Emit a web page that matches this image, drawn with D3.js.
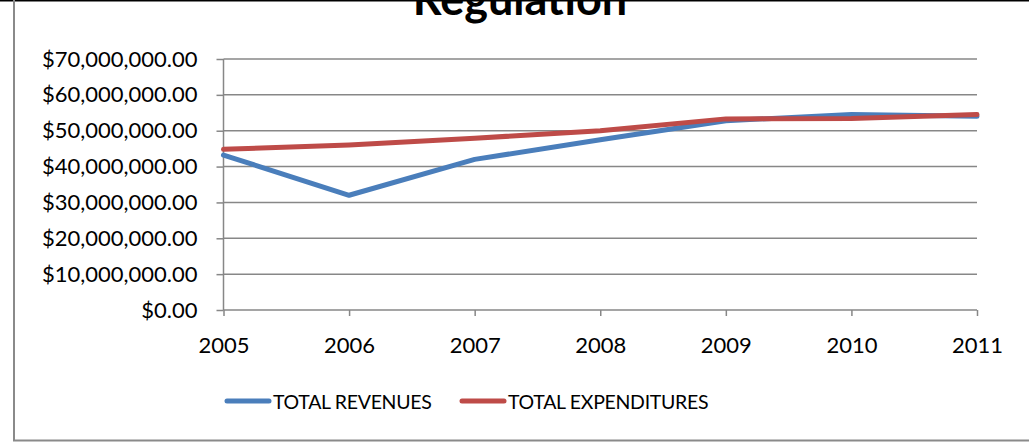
<!DOCTYPE html>
<html>
<head>
<meta charset="utf-8">
<script src="https://cdn.jsdelivr.net/npm/d3@7"></script>
<style>
  body { margin: 0; background: #fff; }
  svg { display: block; font-family: Lato, "Open Sans", sans-serif; }
</style>
</head>
<body>
<div id="chart"></div>
<script>
const years = [2005, 2006, 2007, 2008, 2009, 2010, 2011]
const revenues = [43.2e6, 32.0e6, 42.0e6, 47.5e6, 52.8e6, 54.5e6, 54.0e6]
const expenditures = [44.8e6, 46.0e6, 47.9e6, 50.0e6, 53.3e6, 53.4e6, 54.5e6]
const yTicks = [0, 10e6, 20e6, 30e6, 40e6, 50e6, 60e6, 70e6]
const seriesNames = ["TOTAL REVENUES", "TOTAL EXPENDITURES"]
const colors = ["#4a7ebb", "#be4b48"]

const W = 1029, H = 442
const PLOT = { LEFT: 223.5, RIGHT: 977, TOP: 59, BOTTOM: 310 }
const GRID = "#878787"

const svg = d3.select("#chart").append("svg")
              .attr("width", W)
              .attr("height", H)

// outer frame (chart area border, partly cropped)
svg.append("line").attr("x1", 0).attr("x2", W).attr("y1", 0.75).attr("y2", 0.75)
   .attr("stroke", "#000").attr("stroke-width", 1.5)
svg.append("line").attr("x1", 14).attr("x2", 14).attr("y1", 0).attr("y2", 441)
   .attr("stroke", "#8a8a8a").attr("stroke-width", 2)
svg.append("line").attr("x1", 13).attr("x2", W).attr("y1", 440.5).attr("y2", 440.5)
   .attr("stroke", "#8a8a8a").attr("stroke-width", 2)

svg.append("text")
   .attr("x", 520)
   .attr("y", 15)
   .attr("text-anchor", "middle")
   .attr("font-size", 45)
   .attr("font-weight", "bold")
   .text("Regulation")

const x = d3.scalePoint()
            .domain(years)
            .range([PLOT.LEFT, PLOT.RIGHT])

const y = d3.scaleLinear()
            .domain([0, 70e6])
            .range([PLOT.BOTTOM, PLOT.TOP])

const money = d3.format("$,.2f")

// horizontal gridlines
svg.append("g")
   .selectAll("line")
   .data(yTicks)
   .join("line")
   .attr("x1", PLOT.LEFT)
   .attr("x2", PLOT.RIGHT)
   .attr("y1", d => y(d))
   .attr("y2", d => y(d))
   .attr("stroke", GRID)
   .attr("stroke-width", 1.5)

// y axis
const yAxis = svg.append("g")
                 .attr("transform", `translate(${PLOT.LEFT}, 0)`)
                 .call(d3.axisLeft(y).tickValues(yTicks).tickFormat(money)
                         .tickSize(7).tickPadding(19))
yAxis.select(".domain")
     .attr("stroke", GRID).attr("stroke-width", 1.5)
     .attr("d", `M0,${PLOT.TOP}V${PLOT.BOTTOM}`)
yAxis.selectAll(".tick line").attr("stroke", GRID).attr("stroke-width", 1.5)
yAxis.selectAll(".tick text").attr("font-size", 22).attr("fill", "#000")
     .attr("font-family", "Lato, sans-serif")

// x axis
const xAxis = svg.append("g")
                 .attr("transform", `translate(0, ${PLOT.BOTTOM})`)
                 .call(d3.axisBottom(x).tickSize(6).tickPadding(21))
xAxis.select(".domain").remove()
xAxis.selectAll(".tick line").attr("stroke", GRID).attr("stroke-width", 1.5)
xAxis.selectAll(".tick text").attr("font-size", 22).attr("fill", "#000")
     .attr("font-family", "Lato, sans-serif")

// lines
const line = d3.line()
               .x((d, i) => x(years[i]))
               .y(d => y(d))

svg.selectAll("path.series")
   .data([revenues, expenditures])
   .join("path")
   .attr("class", "series")
   .attr("d", line)
   .attr("fill", "none")
   .attr("stroke", (d, i) => colors[i])
   .attr("stroke-width", 5)
   .attr("stroke-linejoin", "round")
   .attr("stroke-linecap", "round")

// legend
const legendX = [225, 460]
const legend = svg.selectAll("g.legend")
                  .data(seriesNames)
                  .join("g")
                  .attr("class", "legend")
                  .attr("transform", (d, i) => `translate(${legendX[i]}, 401)`)
legend.append("line")
      .attr("x1", 2).attr("x2", 44)
      .attr("stroke", (d, i) => colors[i])
      .attr("stroke-width", 5)
      .attr("stroke-linecap", "round")
legend.append("text")
      .attr("x", 48)
      .attr("y", 7.5)
      .attr("font-size", 19.5)
      .attr("letter-spacing", -0.3)
      .text(d => d)
</script>
</body>
</html>
